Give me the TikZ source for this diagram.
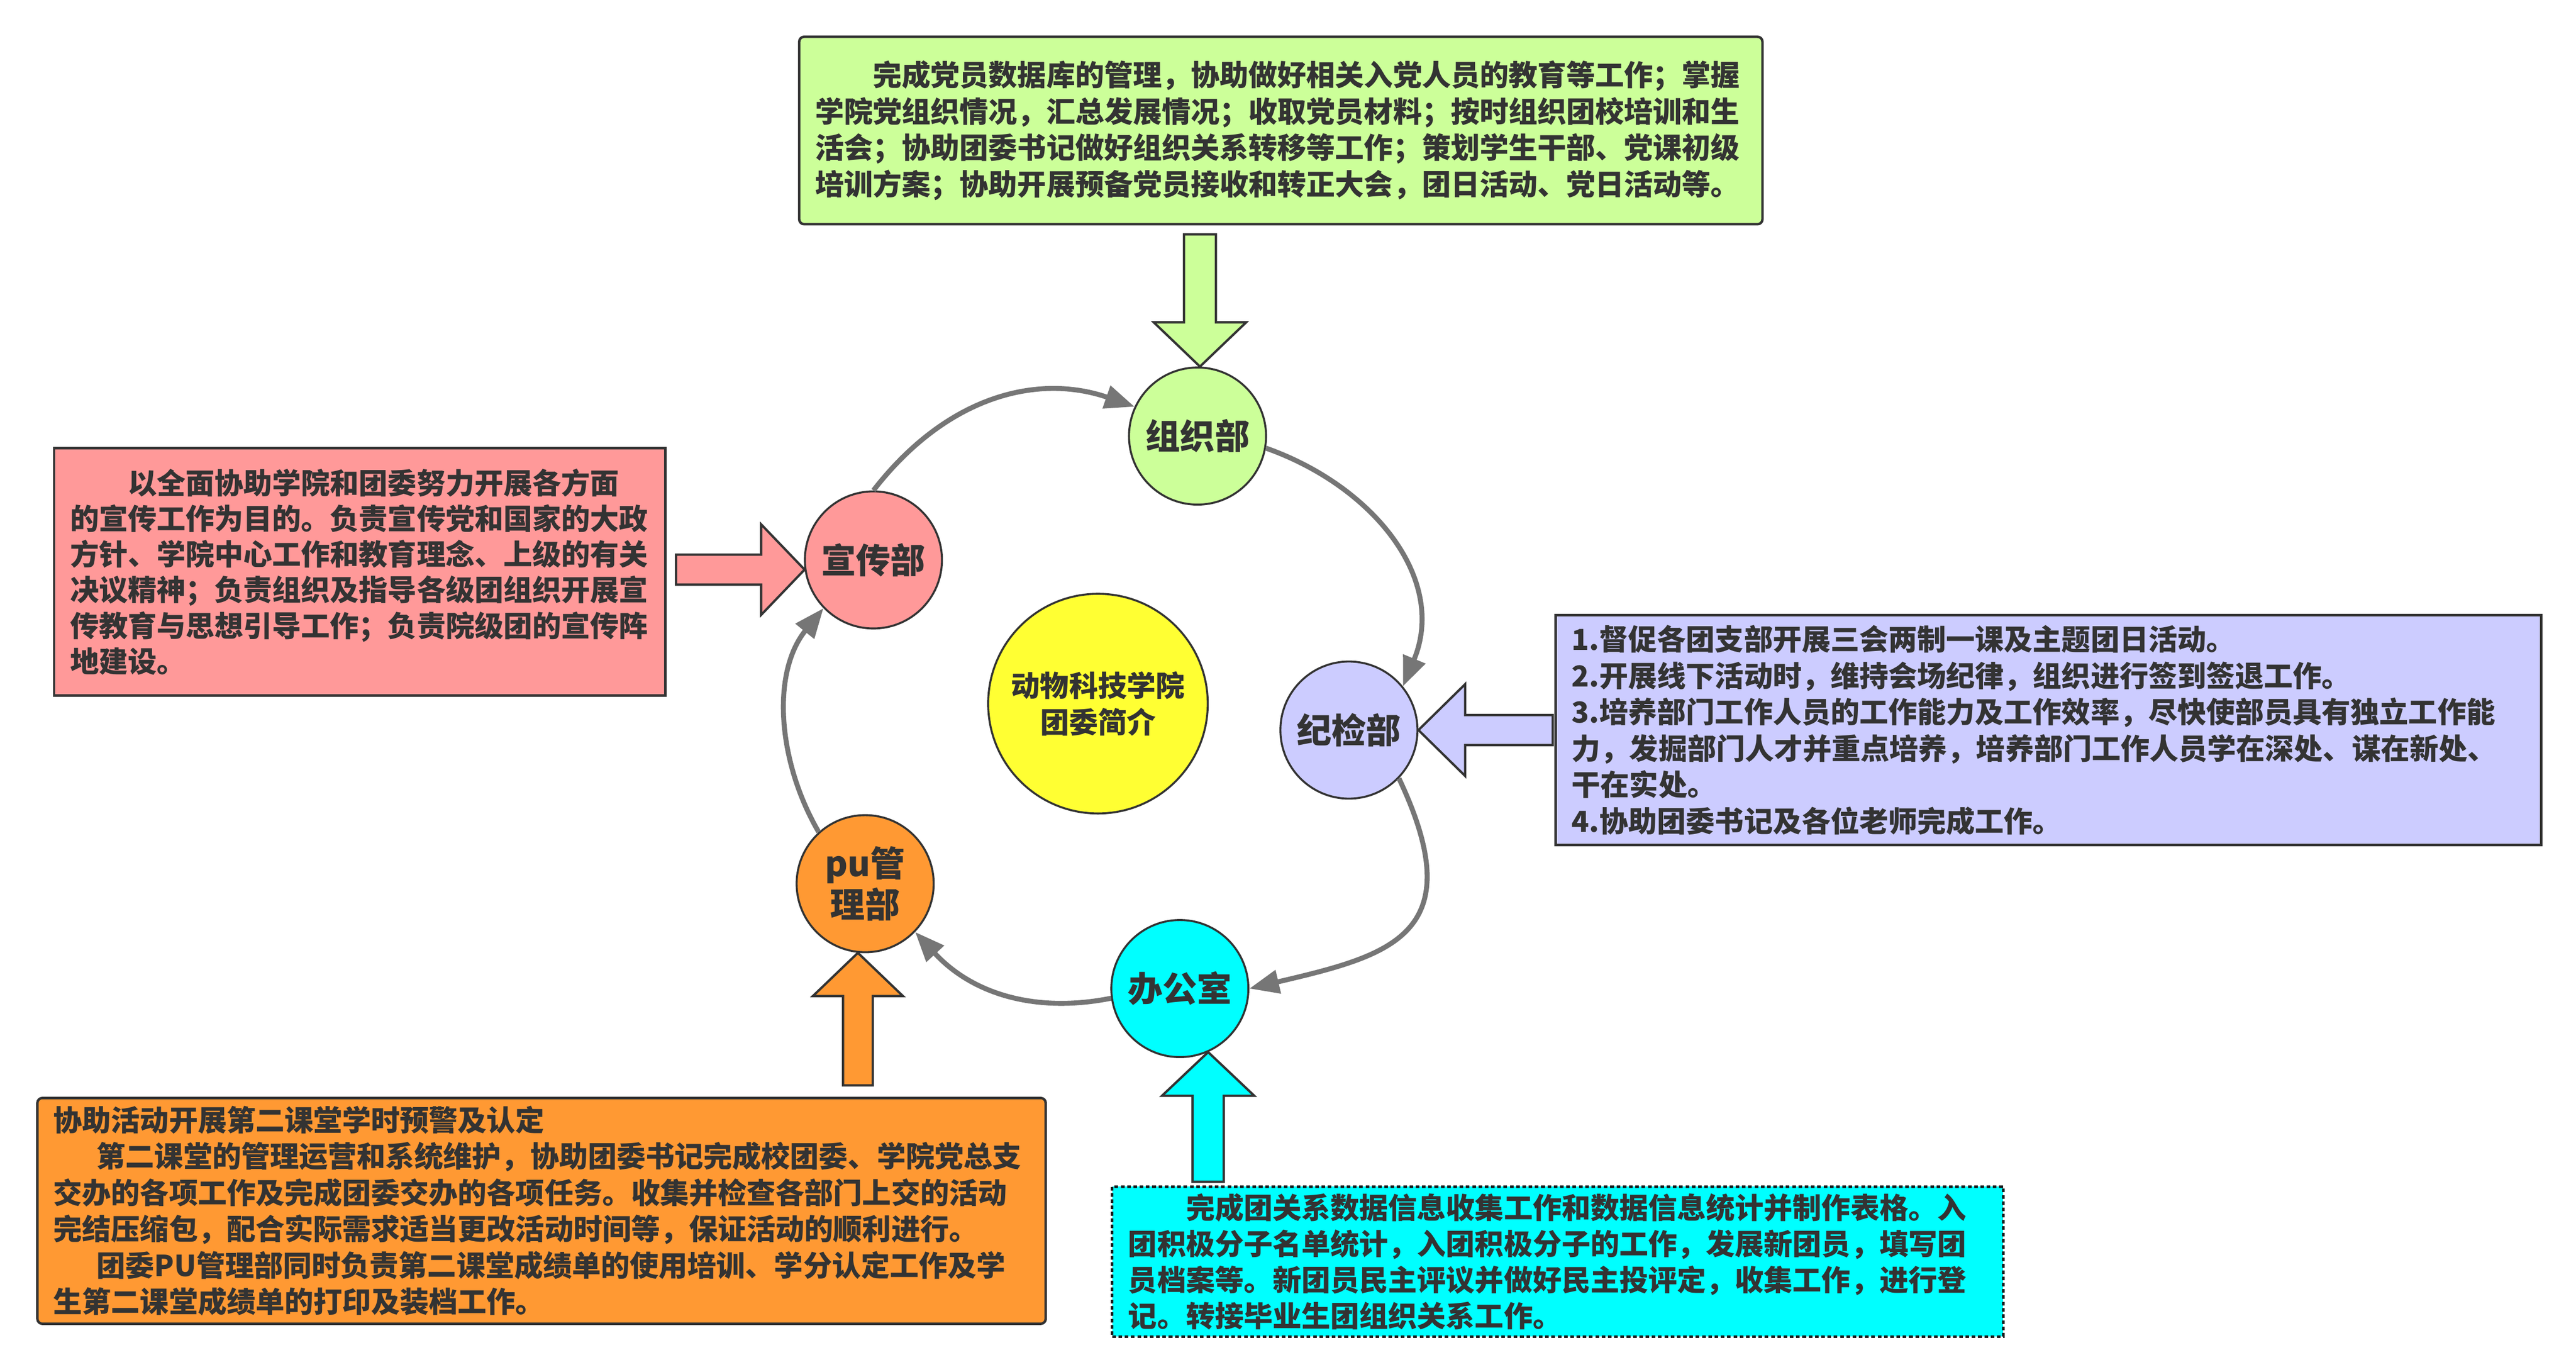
\documentclass[tikz,border=0pt]{standalone}
\usepackage{fontspec}
\newfontfamily\cjk{Noto Sans CJK SC}
\usetikzlibrary{arrows.meta}
\definecolor{ink}{HTML}{333333}
\definecolor{cgreen}{HTML}{CCFF99}
\definecolor{cpink}{HTML}{FF9999}
\definecolor{clav}{HTML}{CCCCFF}
\definecolor{corange}{HTML}{FF9933}
\definecolor{ccyan}{HTML}{00FFFF}
\definecolor{cyellow}{HTML}{FFFF33}
\definecolor{flow}{HTML}{767676}
\begin{document}
\begin{tikzpicture}[x=1pt,y=-1pt,
  dept/.style={circle,draw=ink,line width=1.2pt,minimum size=83pt,inner sep=0pt,text=ink,align=center,
    font=\cjk\bfseries\fontsize{21}{25}\selectfont},
  descbox/.style={draw=ink,line width=1.5pt,anchor=north west,inner xsep=9.7pt,inner ysep=0pt,
    align=left,text=ink,font=\cjk\bfseries\fontsize{17.5}{22}\selectfont},
  blockarrow/.style={draw=ink,line width=1.4pt,line join=miter},
  flowarrow/.style={draw=flow,line width=3pt,-{Triangle[length=18pt,width=14pt]}},
]
\useasboundingbox (0,0) rectangle (1560.2,830.6);

% description boxes
\node[descbox,fill=cgreen,rounded corners=3pt,minimum width=583.4pt,minimum height=113.5pt,text width=564pt] (orgtext) at (483.3,21.5)
{\hspace*{2em}完成党员数据库的管理，协助做好相关入党人员的教育等工作；掌握\\
学院党组织情况，汇总发展情况；收取党员材料；按时组织团校培训和生\\
活会；协助团委书记做好组织关系转移等工作；策划学生干部、党课初级\\
培训方案；协助开展预备党员接收和转正大会，团日活动、党日活动等。};

\node[descbox,fill=cpink,minimum width=370.3pt,minimum height=149.9pt,text width=350.9pt,
  font=\cjk\bfseries\fontsize{17.5}{21.6}\selectfont] (protext) at (32,270.5)
{\hspace*{2em}以全面协助学院和团委努力开展各方面\\
的宣传工作为目的。负责宣传党和国家的大政\\
方针、学院中心工作和教育理念、上级的有关\\
决议精神；负责组织及指导各级团组织开展宣\\
传教育与思想引导工作；负责院级团的宣传阵\\
地建设。};

\node[descbox,fill=clav,minimum width=596.9pt,minimum height=139.2pt,text width=577.5pt] (distext) at (941.5,371.7)
{1.督促各团支部开展三会两制一课及主题团日活动。\\
2.开展线下活动时，维持会场纪律，组织进行签到签退工作。\\
3.培养部门工作人员的工作能力及工作效率，尽快使部员具有独立工作能\\
力，发掘部门人才并重点培养，培养部门工作人员学在深处、谋在新处、\\
干在实处。\\
4.协助团委书记及各位老师完成工作。};

\node[descbox,fill=corange,rounded corners=3pt,minimum width=610.7pt,minimum height=136.7pt,text width=591.3pt] (putext) at (21.9,664)
{协助活动开展第二课堂学时预警及认定\\
\hspace*{1.5em}第二课堂的管理运营和系统维护，协助团委书记完成校团委、学院党总支\\
交办的各项工作及完成团委交办的各项任务。收集并检查各部门上交的活动\\
完结压缩包，配合实际需求适当更改活动时间等，保证活动的顺利进行。\\
\hspace*{1.5em}团委PU管理部同时负责第二课堂成绩单的使用培训、学分认定工作及学\\
生第二课堂成绩单的打印及装档工作。};

\node[descbox,fill=ccyan,draw=black!90,dash pattern=on 2.2pt off 1.6pt,minimum width=539.7pt,minimum height=90.8pt,text width=520.3pt,
  font=\cjk\bfseries\fontsize{17.5}{21.8}\selectfont] (offtext) at (672.9,717.6)
{\hspace*{2em}完成团关系数据信息收集工作和数据信息统计并制作表格。入\\
团积极分子名单统计，入团积极分子的工作，发展新团员，填写团\\
员档案等。新团员民主评议并做好民主投评定，收集工作，进行登\\
记。转接毕业生团组织关系工作。};

% department circles
\node[dept,fill=cgreen] (zz) at (725.3,264) {组织部};
\node[dept,fill=cpink] (xc) at (529,339) {宣传部};
\node[dept,fill=clav] (jj) at (817,442) {纪检部};
\node[dept,fill=ccyan] (bg) at (714.6,598.5) {办公室};
\node[dept,fill=corange] (pu) at (524,535) {pu管\\理部};
\node[dept,fill=cyellow,minimum size=133pt,font=\cjk\bfseries\fontsize{17.5}{22}\selectfont] (center) at (665,426) {动物科技学院\\团委简介};

% cycle arrows
\draw[flowarrow] (xc.90) .. controls +(45,-58) and +(-58,-20) .. (zz.155);
\draw[flowarrow] (zz.-10) .. controls +(65,23) and +(27,-65) .. (jj.39);
\draw[flowarrow] (jj.-44) .. controls +(45,95) and +(85,-20) .. (bg.east);
\draw[flowarrow] (bg.188) .. controls +(-45,9) and +(35,38) .. (pu.-44);
\draw[flowarrow] (pu.132) .. controls +(-25,-43) and +(-31.5,39) .. (xc.224);

% block arrows from the boxes
\draw[blockarrow,fill=cgreen] (zz.88) -- ++(28,-26.8) -- ++(-18.3,0) -- ++(0,-53.3) -- ++(-19.4,0) -- ++(0,53.3) -- ++(-18.3,0) -- cycle;
\draw[blockarrow,fill=cpink] (xc.188) -- ++(-26.3,-27.4) -- ++(0,18.3) -- ++(-51.6,0) -- ++(0,18.2) -- ++(51.6,0) -- ++(0,18.3) -- cycle;
\draw[blockarrow,fill=clav] (jj.east) -- ++(28.3,-27.8) -- ++(0,18.7) -- ++(53,0) -- ++(0,18.2) -- ++(-53,0) -- ++(0,18.7) -- cycle;
\draw[blockarrow,fill=corange] (pu.264) -- ++(27.3,26.2) -- ++(-18.3,0) -- ++(0,54) -- ++(-18,0) -- ++(0,-54) -- ++(-18.3,0) -- cycle;
\draw[blockarrow,fill=ccyan] (bg.-66) -- ++(28,26.5) -- ++(-18.5,0) -- ++(0,52) -- ++(-19,0) -- ++(0,-52) -- ++(-18.5,0) -- cycle;
\end{tikzpicture}
\end{document}
